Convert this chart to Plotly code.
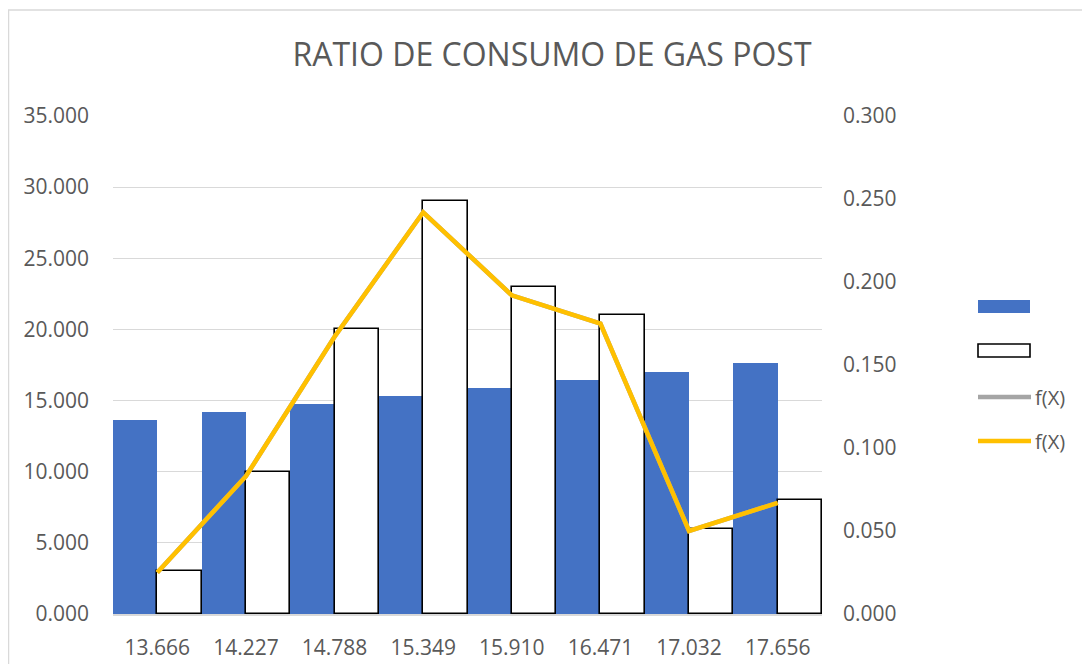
import plotly.graph_objects as go

# class marks (x categories)
categories = ["13.666", "14.227", "14.788", "15.349", "15.910", "16.471", "17.032", "17.656"]
# blue series: value of the class mark
class_values = [13.666, 14.227, 14.788, 15.349, 15.910, 16.471, 17.032, 17.656]
# white series: frequency per class
frequencies = [3, 10, 20, 29, 23, 21, 6, 8]
# f(X): relative frequency
fx_gray = [0.025, 0.083, 0.167, 0.242, 0.192, 0.175, 0.050, 0.067]
fx_yellow = [0.025, 0.083, 0.167, 0.242, 0.192, 0.175, 0.050, 0.067]

left_ticks = [0, 5, 10, 15, 20, 25, 30, 35]
right_ticks = [0, 0.05, 0.1, 0.15, 0.2, 0.25, 0.3]

blue = "#4472c4"
gold = "#ffc000"
gray = "#a5a5a5"
text_color = "#595959"
grid_color = "#d9d9d9"
font_family = "Open Sans, Liberation Sans, sans-serif"

fig = go.Figure()

fig.add_trace(go.Bar(x=categories, y=class_values, marker=dict(color=blue, line=dict(width=0)),
                     yaxis="y"))
fig.add_trace(go.Bar(x=categories, y=frequencies,
                     marker=dict(color="white", line=dict(color="black", width=1.6)),
                     yaxis="y"))
fig.add_trace(go.Scatter(x=categories, y=fx_gray, mode="lines",
                         line=dict(color=gray, width=4.5), yaxis="y2"))
fig.add_trace(go.Scatter(x=categories, y=fx_yellow, mode="lines",
                         line=dict(color=gold, width=4.5), yaxis="y2"))

# the page body adds an 8px offset; plot area on screen spans 113..822 x 116..614
L = 113.0
W = 709.0
B = 614.0
H = 498.0
OFF = 8


def px(x):
    return (x - L) / W


def py(y):
    return (B - y) / H


shapes = [
    # outer chart border
    dict(type="rect", xref="paper", yref="paper", x0=px(8.5), x1=px(1120), y0=py(700), y1=py(10),
         line=dict(color=grid_color, width=1.5), fillcolor="rgba(0,0,0,0)", layer="below"),
    dict(type="rect", xref="paper", yref="paper", x0=px(978), x1=px(1030), y0=py(313), y1=py(300),
         line=dict(width=0), fillcolor=blue),
    dict(type="rect", xref="paper", yref="paper", x0=px(978), x1=px(1030), y0=py(357), y1=py(344),
         line=dict(color="black", width=1.6), fillcolor="white"),
    dict(type="line", xref="paper", yref="paper", x0=px(978), x1=px(1031), y0=py(397), y1=py(397),
         line=dict(color=gray, width=4.5)),
    dict(type="line", xref="paper", yref="paper", x0=px(978), x1=px(1031), y0=py(441), y1=py(441),
         line=dict(color=gold, width=4.5)),
]

annotations = [
    dict(text="f(X)", xref="paper", yref="paper", x=px(1033), y=py(397), xanchor="left",
         yanchor="middle", showarrow=False, font=dict(size=20, color=text_color, family=font_family)),
    dict(text="f(X)", xref="paper", yref="paper", x=px(1033), y=py(441), xanchor="left",
         yanchor="middle", showarrow=False, font=dict(size=20, color=text_color, family=font_family)),
]

fig_w = 1090 - OFF
fig_h = 664 - OFF

fig.update_layout(
    width=fig_w,
    height=fig_h,
    margin=dict(l=L - OFF, r=fig_w - (822 - OFF), t=116 - OFF, b=fig_h - (B - OFF)),
    paper_bgcolor="white",
    plot_bgcolor="white",
    barmode="group",
    bargap=0,
    bargroupgap=0,
    showlegend=False,
    title=dict(text="RATIO DE CONSUMO DE GAS POST", x=(552 - OFF) / fig_w, xanchor="center",
               y=1 - (55 - OFF) / fig_h, yanchor="middle",
               font=dict(size=32, color=text_color, family=font_family)),
    font=dict(family=font_family, size=21, color=text_color),
    xaxis=dict(showgrid=False, showline=True, linecolor=grid_color, linewidth=1.5,
               ticks="", ticklabelstandoff=14, automargin=False,
               tickfont=dict(size=21, color=text_color)),
    yaxis=dict(range=[0, 35], tickvals=left_ticks, tickformat=".3f", showgrid=True,
               gridcolor=grid_color, gridwidth=1.3, zeroline=False, showline=False,
               ticklabelstandoff=23, automargin=False, tickfont=dict(size=21, color=text_color)),
    yaxis2=dict(range=[0, 0.3], tickvals=right_ticks, tickformat=".3f", overlaying="y",
                side="right", showgrid=False, zeroline=False, showline=False,
                ticklabelstandoff=20, automargin=False, tickfont=dict(size=21, color=text_color)),
    shapes=shapes,
    annotations=annotations,
)

fig.write_html("out.html")
